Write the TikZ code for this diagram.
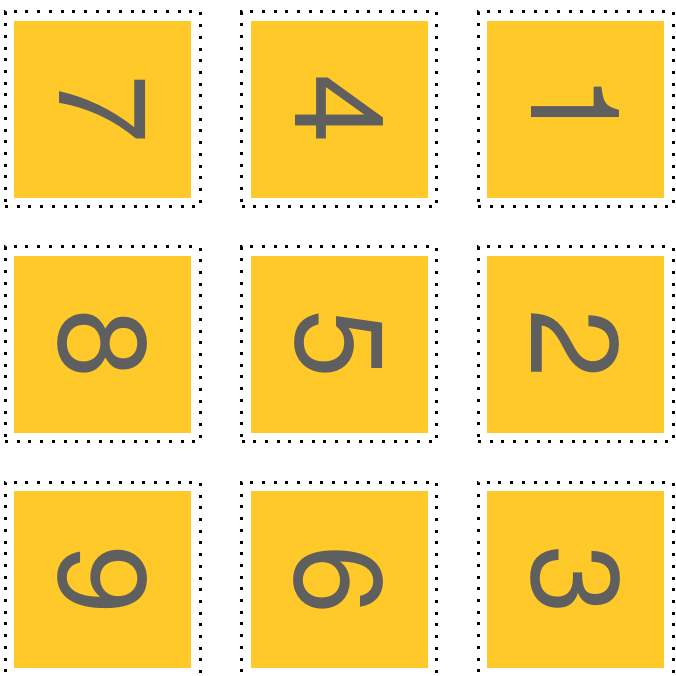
\documentclass[tikz,border=0pt]{standalone}
\usepackage{fontspec}
\setmainfont{TeX Gyre Heros}
\definecolor{kachelgelb}{HTML}{FFC929}
\definecolor{ziffergrau}{HTML}{5F5F5F}
\tikzset{
    rahmen/.style={draw=black, line width=3pt, dash pattern=on 3pt off 8.7pt, minimum size=195pt, inner sep=0pt},
    kachel/.style={fill=kachelgelb, text=ziffergrau, minimum size=177pt, inner sep=0pt, rotate=-90,
                   font=\fontsize{124}{124}\selectfont}
}
\begin{document}
\begin{tikzpicture}[x=1pt, y=-1pt]
    \useasboundingbox (0,0) rectangle (676,675);                  % Seite
    \node[rahmen] (r7) at (102.5,109)    {};                       % Rahmen oben
    \node[rahmen] (r4) at (339,109)      {};
    \node[rahmen] (r1) at (575.5,109)    {};
    \node[rahmen] (r8) at (102.5,344.25) {};                       % Rahmen Mitte
    \node[rahmen] (r5) at (339,344.25)   {};
    \node[rahmen] (r2) at (575.5,344.25) {};
    \node[rahmen] (r9) at (102.5,579.5)  {};                       % Rahmen unten
    \node[rahmen] (r6) at (339,579.5)    {};
    \node[rahmen] (r3) at (575.5,579.5)  {};
    \node[kachel] (k7) at (r7) {7};                                % Kacheln oben
    \node[kachel] (k4) at (r4) {4};
    \node[kachel] (k1) at (r1) {1};
    \node[kachel] (k8) at (r8) {8};                                % Kacheln Mitte
    \node[kachel] (k5) at (r5) {5};
    \node[kachel] (k2) at (r2) {2};
    \node[kachel] (k9) at (r9) {9};                                % Kacheln unten
    \node[kachel] (k6) at (r6) {6};
    \node[kachel] (k3) at (r3) {3};
\end{tikzpicture}
\end{document}
